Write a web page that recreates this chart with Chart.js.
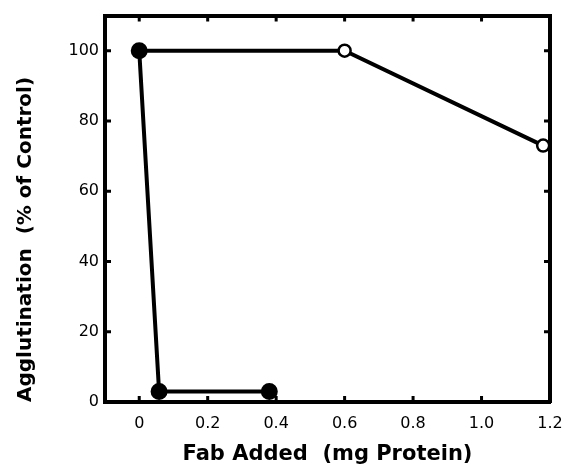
<!DOCTYPE html>
<html>
<head>
<meta charset="utf-8">
<script src="https://cdn.jsdelivr.net/npm/chart.js@4"></script>
<style>
  html, body { margin: 0; padding: 0; background: #fff; }
  #wrap { width: 563px; height: 474px; }
</style>
</head>
<body>
<div id="wrap"><canvas id="fabChart"></canvas></div>
<script>
// values
const filledX = [0, 0.058, 0.38];
const filledY = [100, 3, 3];
const openX = [0, 0.6, 1.18];
const openY = [100, 100, 73];
const xTicks = [0, 0.2, 0.4, 0.6, 0.8, 1.0, 1.2];
const xTickLabels = ['0', '0.2', '0.4', '0.6', '0.8', '1.0', '1.2'];
const yTicks = [0, 20, 40, 60, 80, 100];

const ctx = document.getElementById('fabChart').getContext('2d');

const toPoints = (xs, ys) => xs.map((x, i) => ({ x: x, y: ys[i] }));

// small tick marks pointing into the plot, on all four sides
const inwardTicks = {
    id: 'inwardTicks',
    afterDraw(chart) {
        const { ctx, chartArea: a, scales } = chart;
        const len = 6;
        ctx.save();
        ctx.strokeStyle = '#000';
        ctx.lineWidth = 3;
        ctx.beginPath();
        xTicks.forEach(v => {
            const px = scales.x.getPixelForValue(v);
            ctx.moveTo(px, a.bottom); ctx.lineTo(px, a.bottom - len);
            ctx.moveTo(px, a.top); ctx.lineTo(px, a.top + len);
        });
        yTicks.forEach(v => {
            const py = scales.y.getPixelForValue(v);
            ctx.moveTo(a.left, py); ctx.lineTo(a.left + len, py);
            ctx.moveTo(a.right, py); ctx.lineTo(a.right - len, py);
        });
        ctx.stroke();
        ctx.restore();
    }
};

const frame = { display: true, color: '#000', width: 4 };

const config = {
    type: 'scatter',
    data: {
        datasets: [
            {
                label: 'Open',
                data: toPoints(openX, openY),
                showLine: true,
                borderColor: '#000',
                borderWidth: 4,
                pointRadius: [0, 6, 6],
                pointBackgroundColor: '#fff',
                pointBorderColor: '#000',
                pointBorderWidth: 2.5,
                order: 2
            },
            {
                label: 'Filled',
                data: toPoints(filledX, filledY),
                showLine: true,
                borderColor: '#000',
                borderWidth: 4,
                pointRadius: 6.5,
                pointBackgroundColor: '#000',
                pointBorderColor: '#000',
                order: 1
            }
        ]
    },
    options: {
        responsive: true,
        maintainAspectRatio: false,
        animation: false,
        layout: { padding: 0 },
        plugins: {
            legend: { display: false },
            tooltip: { enabled: false }
        },
        scales: {
            x: {
                type: 'linear',
                position: 'bottom',
                min: -0.1,
                max: 1.2,
                afterBuildTicks: (s) => { s.ticks = xTicks.map(v => ({ value: v })); },
                afterFit: (s) => { s.height = 72; s.paddingLeft = 0; s.paddingRight = 0; },
                grid: { display: false, drawTicks: false },
                border: frame,
                ticks: {
                    padding: 12,
                    color: '#000',
                    font: { family: 'DejaVu Sans', size: 16 },
                    callback: (v) => xTickLabels[xTicks.indexOf(v)]
                },
                title: {
                    display: true,
                    text: 'Fab Added  (mg Protein)',
                    color: '#000',
                    font: { family: 'DejaVu Sans', size: 21, weight: 'bold' },
                    padding: { top: 0, bottom: 7 }
                }
            },
            x2: {
                type: 'linear',
                position: 'top',
                min: -0.1,
                max: 1.2,
                afterFit: (s) => { s.height = 14; s.paddingLeft = 0; s.paddingRight = 0; },
                grid: { display: false, drawTicks: false },
                border: frame,
                ticks: { display: false }
            },
            y: {
                type: 'linear',
                position: 'left',
                min: 0,
                max: 110,
                afterBuildTicks: (s) => { s.ticks = yTicks.map(v => ({ value: v })); },
                afterFit: (s) => { s.width = 105; },
                grid: { display: false, drawTicks: false },
                border: frame,
                ticks: {
                    padding: 6,
                    color: '#000',
                    font: { family: 'DejaVu Sans', size: 16 }
                },
                title: {
                    display: true,
                    text: 'Agglutination  (% of Control)',
                    align: 'start',
                    color: '#000',
                    font: { family: 'DejaVu Sans', size: 20, weight: 'bold' },
                    padding: { top: 14, bottom: 0 }
                }
            },
            y2: {
                type: 'linear',
                position: 'right',
                min: 0,
                max: 110,
                afterFit: (s) => { s.width = 13; },
                grid: { display: false, drawTicks: false },
                border: frame,
                ticks: { display: false }
            }
        }
    },
    plugins: [inwardTicks]
};

new Chart(ctx, config);
</script>
</body>
</html>
